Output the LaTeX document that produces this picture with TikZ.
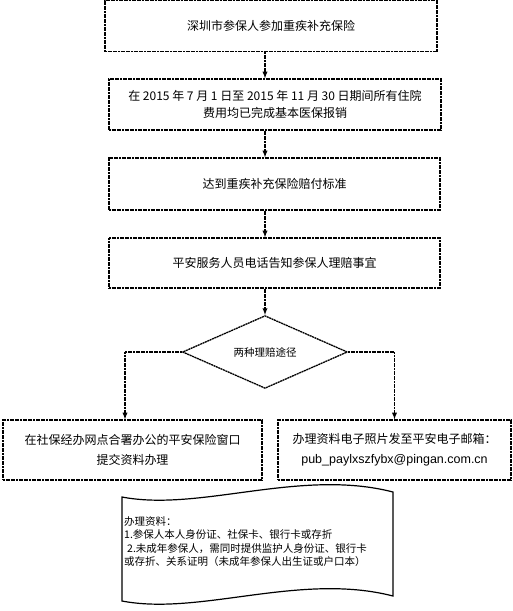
\documentclass[tikz,border=0pt]{standalone}
\usepackage{fontspec}
\setmainfont{Noto Sans CJK SC}
\newfontfamily\latinfont{Liberation Sans}
\usetikzlibrary{positioning, arrows, shapes.geometric}

\begin{document}
\begin{tikzpicture}[x=1pt, y=-1pt,
    box/.style={rectangle, draw, line width=1.3pt, dash pattern=on 2pt off 0.6pt,
                minimum width=332pt, minimum height=51pt, inner sep=0pt,
                align=center, font=\fontsize{12}{17}\selectfont},
    flow/.style={->, >=latex, line width=1.3pt, dash pattern=on 2pt off 0.6pt}]
    \useasboundingbox (0,0) rectangle (512,611);

    \node (join)    at (271,26)    [box] {深圳市参保人参加重疾补充保险};
    \node (paid)    at (275,104.5) [box] {在 2015 年 7 月 1 日至 2015 年 11 月 30 日期间所有住院\\费用均已完成基本医保报销};
    \node (reach)   at (274.5,184) [box, minimum width=331pt, minimum height=52pt] {达到重疾补充保险赔付标准};
    \node (notify)  at (274.5,263) [box, minimum width=331pt, minimum height=50pt] {平安服务人员电话告知参保人理赔事宜};
    \node (ways)    at (265,352)   [diamond, draw, line width=1.3pt, dash pattern=on 2pt off 0.6pt,
                                    minimum width=165pt, minimum height=69pt, inner sep=0pt,
                                    font=\fontsize{10.5}{12}\selectfont] {两种理赔途径};
    \node (window)  at (132.5,450) [box, minimum width=259pt, minimum height=60pt, font=\fontsize{12}{20}\selectfont] {在社保经办网点合署办公的平安保险窗口\\提交资料办理};
    \node (mail)    at (394.5,450) [box, minimum width=233pt, minimum height=60pt, font=\fontsize{12}{20}\selectfont] {办理资料电子照片发至平安电子邮箱：\\{\latinfont\fontsize{12.5}{20}\selectfont pub\_paylxszfybx@pingan.com.cn}};

    \draw[flow] (join.south -| ways.north) -- (paid.north -| ways.north);
    \draw[flow] (paid.south -| ways.north) -- (reach.north -| ways.north);
    \draw[flow] (reach.south -| ways.north) -- (notify.north -| ways.north);
    \draw[flow] (notify.south -| ways.north) -- (ways.north);
    \draw[flow] (ways.west) -| ([xshift=-7.5pt]window.north);
    \draw[flow] (ways.east) -| (mail.north);

    % list of papers
    \draw[line width=1.2pt] (122,497) .. controls (200,512) and (300,468) .. (393,492)
        -- (393,596) .. controls (300,572) and (200,616) .. (122,601) -- cycle;
    \node (papers) at (124,516) [anchor=north west, align=left, inner sep=0pt,
                                 font=\fontsize{10.5}{13.5}\selectfont]
        {办理资料：\\1.参保人本人身份证、社保卡、银行卡或存折\\\hspace{3pt}2.未成年参保人，需同时提供监护人身份证、银行卡\\或存折、关系证明（未成年参保人出生证或户口本）};
\end{tikzpicture}
\end{document}
